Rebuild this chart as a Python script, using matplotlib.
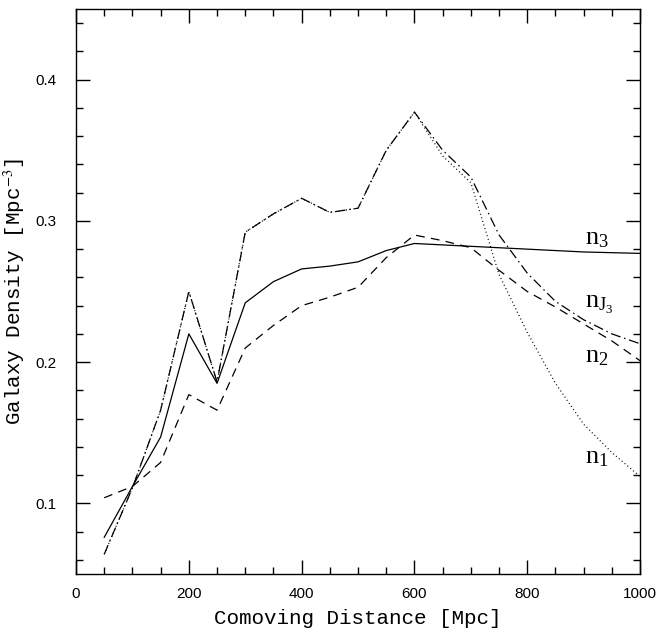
import numpy as np
import matplotlib
matplotlib.use('Agg')
import matplotlib.pyplot as plt
from matplotlib.ticker import MultipleLocator

#-------------------------------------------------------------------------------
# comoving distance grid [Mpc]
dist = [50, 100, 150, 200, 250, 300, 350, 400, 450, 500, 550, 600, 650, 700,
        750, 800, 850, 900, 950, 1000]

n1  = [0.064, 0.111, 0.166, 0.250, 0.186, 0.292, 0.305, 0.316, 0.306, 0.309,
       0.350, 0.377, 0.346, 0.327, 0.262, 0.221, 0.185, 0.156, 0.136, 0.119]
nJ3 = [0.064, 0.111, 0.166, 0.250, 0.186, 0.292, 0.305, 0.316, 0.306, 0.309,
       0.350, 0.377, 0.350, 0.331, 0.290, 0.263, 0.243, 0.230, 0.220, 0.213]
n2  = [0.104, 0.112, 0.129, 0.177, 0.166, 0.210, 0.226, 0.240, 0.246, 0.253,
       0.274, 0.290, 0.286, 0.281, 0.265, 0.250, 0.239, 0.227, 0.215, 0.201]
n3  = [0.076, 0.112, 0.147, 0.220, 0.185, 0.242, 0.257, 0.266, 0.268, 0.271,
       0.279, 0.284, 0.283, 0.282, 0.281, 0.280, 0.279, 0.278, 0.2775, 0.277]

#-------------------------------------------------------------------------------
plt.rcParams['mathtext.fontset'] = 'stix'

fig = plt.figure(figsize=(6.64, 6.31), dpi=100)
ax = fig.add_axes([0.1145, 0.0903, 0.8495, 0.8954])

lw = 0.9
ax.plot(dist, n3, '-', color='k', linewidth=lw)
ax.plot(dist, n2, color='k', linewidth=lw, dashes=(7, 5))
ax.plot(dist, nJ3, color='k', linewidth=lw, dashes=(8, 3, 1.2, 3))
ax.plot(dist, n1, color='k', linewidth=lw, dashes=(0.8, 2.2))

serif = 'Liberation Serif'
ax.text(902, 0.2835, r'$\mathregular{n_3}$', fontsize=19, family=serif)
ax.text(902, 0.2385, r'$\mathregular{n_{J_3}}$', fontsize=19, family=serif)
ax.text(902, 0.1995, r'$\mathregular{n_2}$', fontsize=19, family=serif)
ax.text(902, 0.128, r'$\mathregular{n_1}$', fontsize=19, family=serif)

ax.set_xlim(0, 1000)
ax.set_ylim(0.05, 0.45)
ax.xaxis.set_major_locator(MultipleLocator(200))
ax.xaxis.set_minor_locator(MultipleLocator(50))
ax.yaxis.set_major_locator(MultipleLocator(0.1))
ax.yaxis.set_minor_locator(MultipleLocator(0.02))
ax.yaxis.set_major_formatter(matplotlib.ticker.FormatStrFormatter('%.1f'))
ax.tick_params(which='both', direction='in', top=True, right=True, width=1)
ax.tick_params(which='major', length=10)
ax.tick_params(which='minor', length=5)
ax.tick_params(axis='x', pad=9, labelsize=11)
ax.tick_params(axis='y', pad=14, labelsize=11)
for lab in ax.get_xticklabels() + ax.get_yticklabels():
    lab.set_family('Liberation Sans')
for s in ax.spines.values():
    s.set_linewidth(1)

ax.set_xlabel('Comoving Distance [Mpc]', family='Liberation Mono', fontsize=15, labelpad=6)
ax.set_ylabel(r'Galaxy Density [Mpc$^{-3}$]', family='Liberation Mono', fontsize=15, labelpad=6)

fig.savefig('out.png', dpi=100)
